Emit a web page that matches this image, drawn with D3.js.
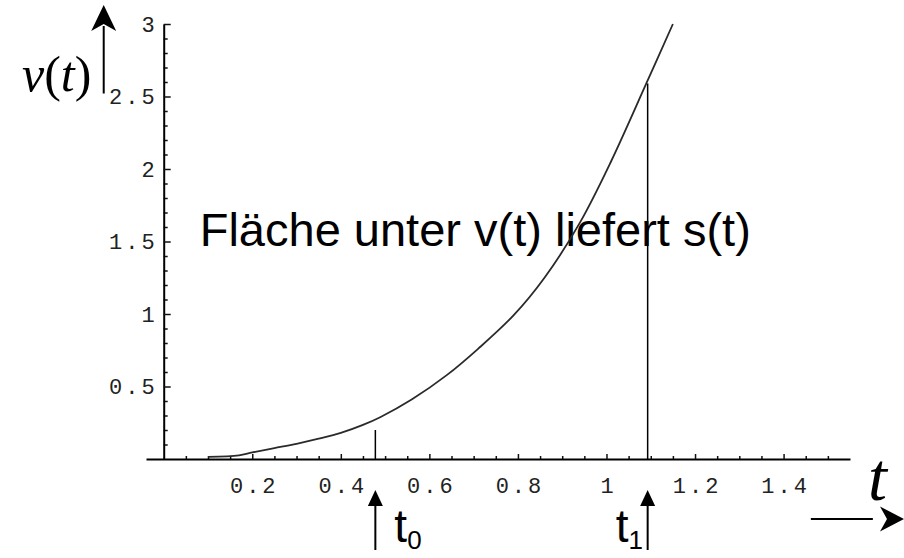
<!DOCTYPE html>
<html>
<head>
<meta charset="utf-8">
<script src="https://cdn.jsdelivr.net/npm/d3@7"></script>
<style>
  body { margin: 0; background: #fff; }
</style>
</head>
<body>
<div id="chart"></div>
<script>
// curve v(t)
const tValues = [0.1, 0.17, 0.2, 0.25, 0.3, 0.35, 0.4, 0.45, 0.49, 0.56, 0.64, 0.71, 0.79, 0.86, 0.94, 1.01, 1.09, 1.15];
const vValues = [0.015, 0.025, 0.045, 0.075, 0.105, 0.14, 0.18, 0.235, 0.29, 0.41, 0.58, 0.76, 0.99, 1.25, 1.63, 2.05, 2.59, 3.0];
// marked times t0, t1 and their vertical lines
const markTimes = [0.478, 1.093];
const markHeights = [0.2, 2.59];
const markLabels = ["0", "1"];
// axes
const xTickValues = [0.2, 0.4, 0.6, 0.8, 1, 1.2, 1.4];
const yTickValues = [0.5, 1, 1.5, 2, 2.5, 3];
const caption = "Fläche unter v(t) liefert s(t)";

const width = 904,
  height = 558;

let svg = d3
  .select("#chart")
  .append("svg")
  .attr("width", width)
  .attr("height", height)
  .style("background", "#fff");

var x = d3.scaleLinear().domain([-0.04, 1.55]).range([146, 850]);
var y = d3.scaleLinear().domain([0, 3]).range([459, 24]);

let fmt = d => String(+d.toFixed(1));
let tickFont = "'Liberation Mono', 'DejaVu Sans Mono', monospace";

//////////
// CAPTION (drawn first, the curve goes over it)
//////////
svg
  .append("text")
  .attr("x", x(0) + 36)
  .attr("y", y(1.5) + 4)
  .style("font-family", "'Liberation Sans', Arial, sans-serif")
  .style("font-size", "47px")
  .style("fill", "#000")
  .text(caption);

//////////
// AXES
//////////
// minor ticks
let xMinor = d3.range(1, 31).map(i => i * 0.05).filter(v => Math.abs(v * 5 - Math.round(v * 5)) > 1e-6);
let yMinor = d3.range(1, 30).map(i => i / 10).filter(v => Math.abs(v * 2 - Math.round(v * 2)) > 1e-6);

svg
  .append("g")
  .attr("transform", "translate(0," + y(0) + ")")
  .call(d3.axisBottom(x).tickValues(xMinor).tickSize(-3).tickFormat(""))
  .call(g => g.select(".domain").remove());

svg
  .append("g")
  .attr("transform", "translate(" + x(0) + ",0)")
  .call(d3.axisLeft(y).tickValues(yMinor).tickSize(-4).tickFormat(""))
  .call(g => g.select(".domain").remove());

let xAxis = svg
  .append("g")
  .attr("transform", "translate(0," + y(0) + ")")
  .call(
    d3
      .axisBottom(x)
      .tickValues(xTickValues)
      .tickSize(-5)
      .tickSizeOuter(0)
      .tickPadding(18)
      .tickFormat(fmt)
  );
xAxis.selectAll("text").attr("dx", "1.5px");

let yAxis = svg
  .append("g")
  .attr("transform", "translate(" + x(0) + ",0)")
  .call(
    d3
      .axisLeft(y)
      .tickValues(yTickValues)
      .tickSize(-7)
      .tickSizeOuter(0)
      .tickPadding(6)
      .tickFormat(fmt)
  );

svg.selectAll(".domain").attr("stroke", "#000").attr("stroke-width", 2);
svg.selectAll(".tick line").attr("stroke", "#111").attr("stroke-width", 1.5);
svg
  .selectAll(".tick text")
  .style("font-family", tickFont)
  .style("font-size", "22px")
  .style("letter-spacing", "3px")
  .attr("fill", "#222");

//////////
// CURVE
//////////
let curveData = tValues.map((t, i) => ({ t: t, v: vValues[i] }));
let line = d3
  .line()
  .x(d => x(d.t))
  .y(d => y(d.v))
  .curve(d3.curveCatmullRom.alpha(0.5));

svg
  .append("path")
  .datum(curveData)
  .attr("d", line)
  .attr("fill", "none")
  .attr("stroke", "#2a2a2a")
  .attr("stroke-width", 1.8);

// vertical lines at t0 and t1
svg
  .selectAll("line.mark")
  .data(markTimes)
  .enter()
  .append("line")
  .attr("class", "mark")
  .attr("x1", d => x(d))
  .attr("x2", d => x(d))
  .attr("y1", y(0))
  .attr("y2", (d, i) => y(markHeights[i]))
  .attr("stroke", "#000")
  .attr("stroke-width", 1.5);

//////////
// ARROWS AND LABELS
//////////
function arrowHead(tipX, tipY, dir, len, half, notch) {
  // dir: "up" or "right"
  if (dir === "up")
    return `M${tipX},${tipY}L${tipX + half},${tipY + len}L${tipX},${tipY + len - notch}L${tipX - half},${tipY + len}Z`;
  return `M${tipX},${tipY}L${tipX - len},${tipY - half}L${tipX - len + notch},${tipY}L${tipX - len},${tipY + half}Z`;
}

// arrows under t0 and t1
markTimes.forEach((t, i) => {
  let ax = x(t);
  svg
    .append("line")
    .attr("x1", ax)
    .attr("x2", ax)
    .attr("y1", y(0) + 91)
    .attr("y2", y(0) + 44)
    .attr("stroke", "#000")
    .attr("stroke-width", 2);
  svg
    .append("path")
    .attr("d", arrowHead(ax, y(0) + 31, "up", 16, 7.5, 0))
    .attr("fill", "#000");

  let label = svg
    .append("text")
    .attr("x", i === 0 ? ax + 19 : ax - 32)
    .attr("y", y(0) + 83)
    .style("font-family", "'Liberation Sans', Arial, sans-serif")
    .style("font-size", "46px")
    .style("fill", "#000");
  label.append("tspan").text("t");
  label
    .append("tspan")
    .attr("dy", 7)
    .style("font-size", "26px")
    .text(markLabels[i]);
});

// v(t) arrow on the left
let vx = x(0) - 60;
svg
  .append("line")
  .attr("x1", vx)
  .attr("x2", vx)
  .attr("y1", y(2.5) - 3)
  .attr("y2", y(3) + 2)
  .attr("stroke", "#000")
  .attr("stroke-width", 2);
svg
  .append("path")
  .attr("d", arrowHead(vx, y(3) - 19, "up", 26, 12.5, 7))
  .attr("fill", "#000");

let vLabel = svg
  .append("text")
  .attr("x", 22)
  .attr("y", y(2.5) - 6)
  .style("font-family", "'Liberation Serif', 'Times New Roman', serif")
  .style("font-size", "50px")
  .style("fill", "#000");
vLabel.append("tspan").style("font-style", "italic").text("v");
vLabel.append("tspan").text("(");
vLabel.append("tspan").style("font-style", "italic").text("t");
vLabel.append("tspan").text(")");

// t arrow on the right
let ty = y(0) + 60;
svg
  .append("line")
  .attr("x1", x(1.5) - 17)
  .attr("x2", x(1.5) + 45)
  .attr("y1", ty)
  .attr("y2", ty)
  .attr("stroke", "#000")
  .attr("stroke-width", 2);
svg
  .append("path")
  .attr("d", arrowHead(width, ty, "right", 24, 12.5, 7))
  .attr("fill", "#000");

svg
  .append("text")
  .attr("x", 868)
  .attr("y", y(0) + 41)
  .style("font-family", "'Liberation Serif', 'Times New Roman', serif")
  .style("font-style", "italic")
  .style("font-size", "68px")
  .style("fill", "#000")
  .text("t");
</script>
</body>
</html>
